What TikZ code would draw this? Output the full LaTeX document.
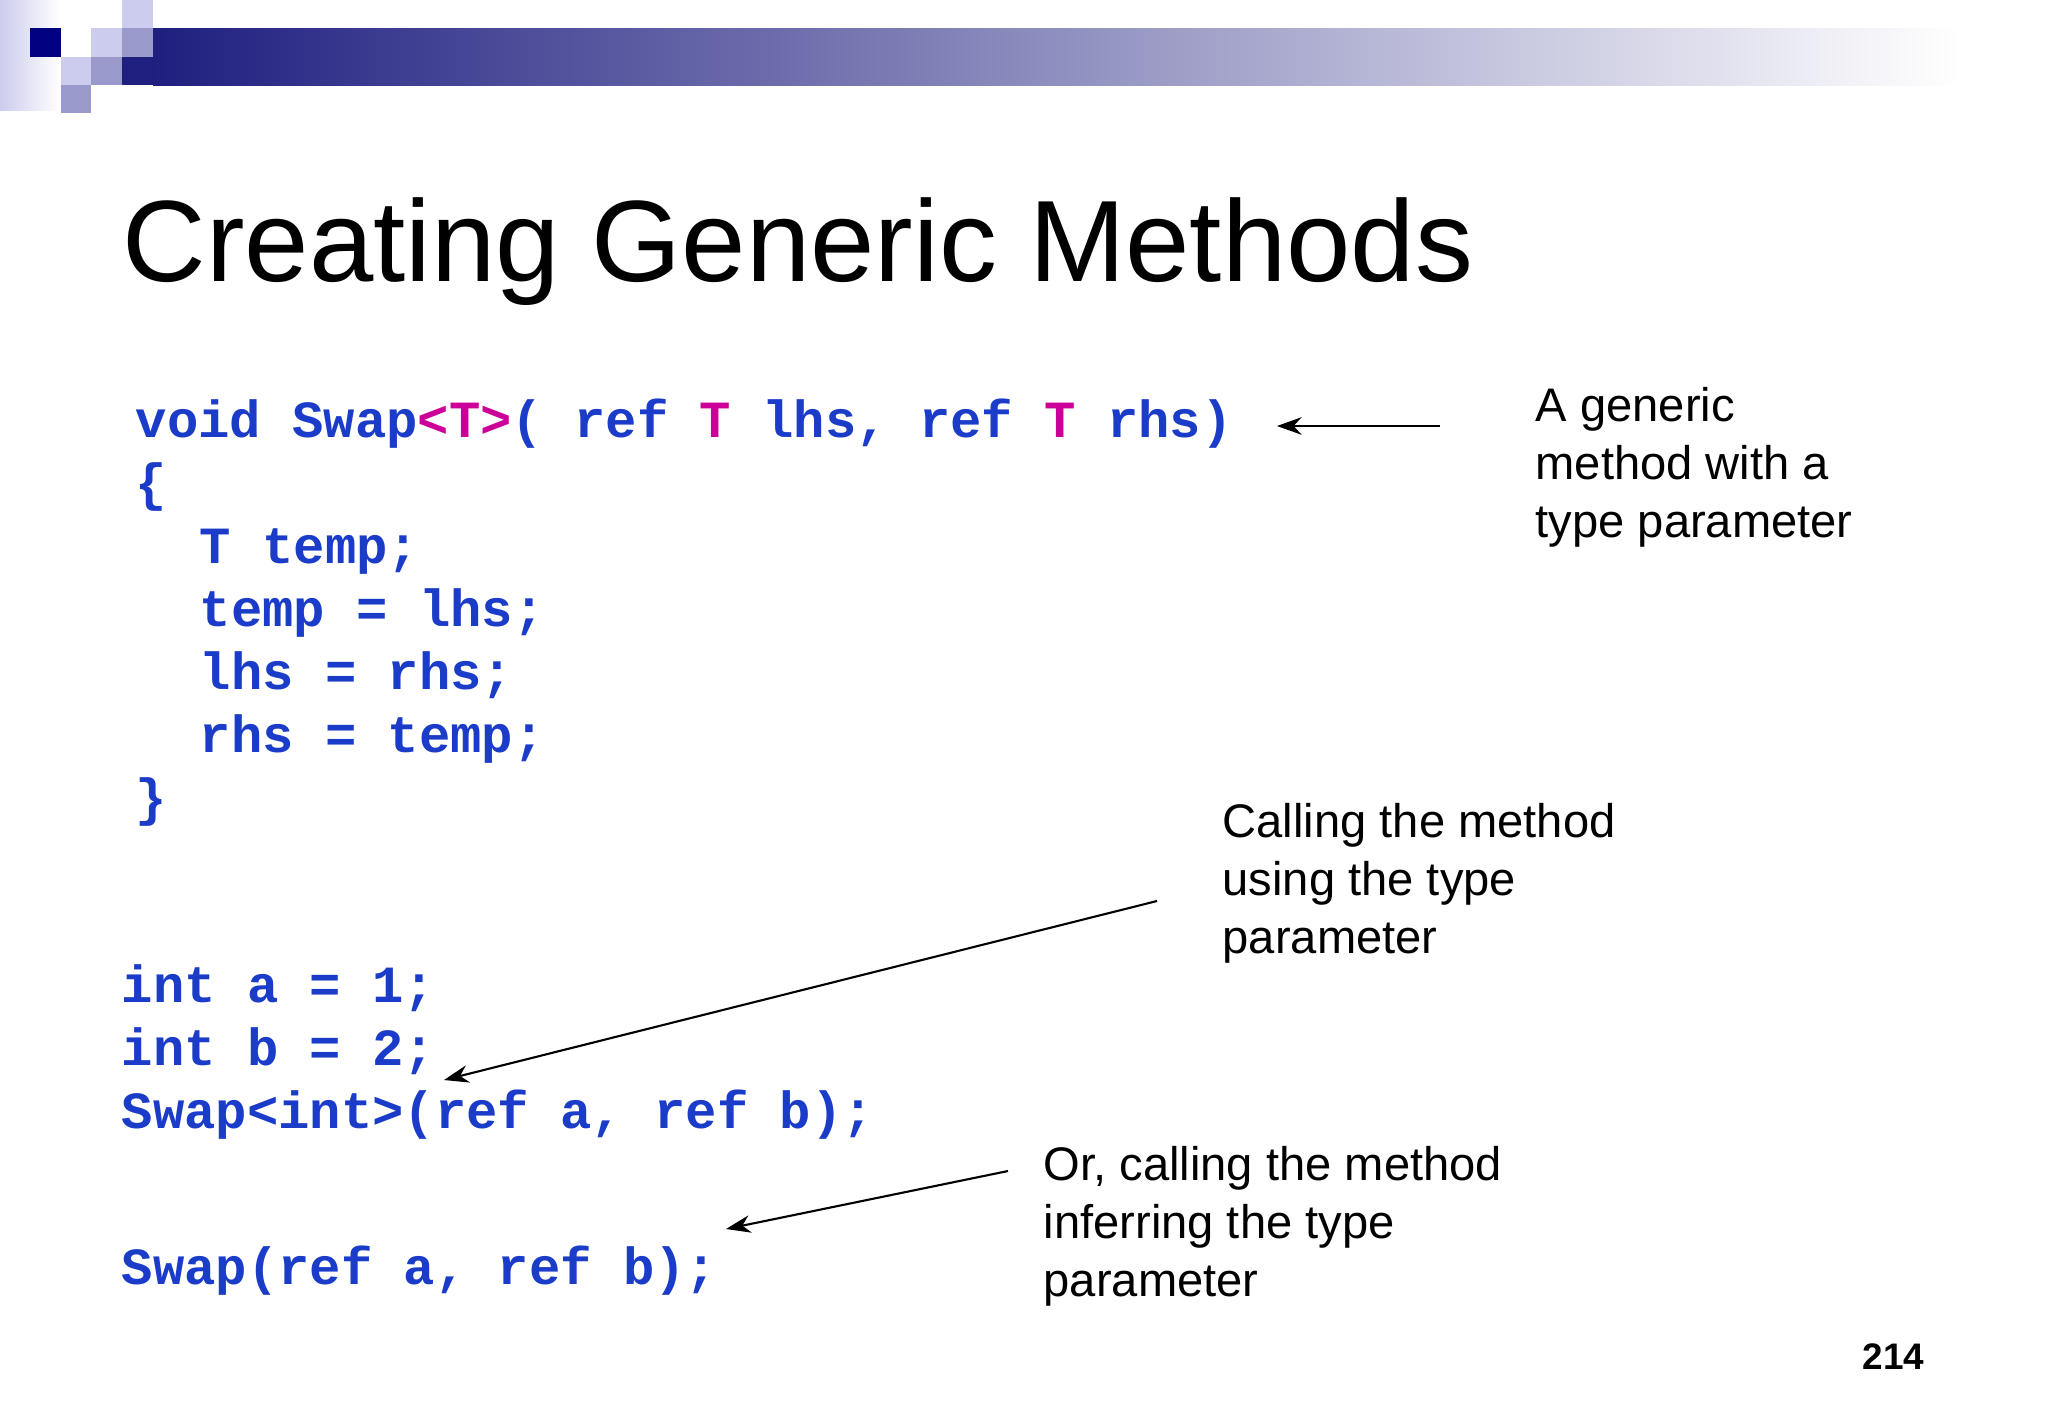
\documentclass[tikz,border=0pt]{standalone}
\usepackage{fontspec}
\setmainfont{Liberation Sans}
\newfontfamily\codefont{Liberation Mono}
\usetikzlibrary{arrows.meta}
\definecolor{cblue}{HTML}{1A3CC8}
\definecolor{cmag}{HTML}{CC0099}
\definecolor{navy}{HTML}{000080}
\definecolor{lsq}{HTML}{CCCCEE}
\definecolor{msq}{HTML}{9999CC}
\definecolor{dsq}{HTML}{1F1F80}
\tikzset{
 code/.style={anchor=base west,inner sep=0pt,font=\codefont\bfseries\fontsize{14.85}{16}\selectfont,text=cblue},
 note/.style={anchor=base west,inner sep=0pt,font=\fontsize{13.4}{16.4}\selectfont,align=left},
 pointer/.style={-{Stealth[length=7pt,width=5pt]},line width=0.6pt}
}
\begin{document}
\begin{tikzpicture}[x=0.01cm,y=-0.01cm]
\useasboundingbox (0,0) rectangle (2048,1418);
\fill[white] (0,0) rectangle (2048,1418);
% decoration
\shade[left color=lsq,right color=white] (0,0) rectangle (60,110);
\shade[left color=dsq,right color=white] (153,28) rectangle (1960,85);
\fill[navy] (30,28) rectangle (61,57);
\fill[lsq] (61,57) rectangle (91,85);
\fill[msq] (61,85) rectangle (91,113);
\fill[lsq] (91,28) rectangle (122,57);
\fill[msq] (122,28) rectangle (153,57);
\fill[lsq] (122,0) rectangle (153,28);
\fill[msq] (91,57) rectangle (122,85);
\fill[dsq] (122,57) rectangle (153,85);
% title
\node[anchor=base west,inner sep=0pt,font=\fontsize{32.9}{40}\selectfont] (title) at (122,281) {Creating Generic Methods};
% code
\node[code] (l1) at (135,437) {void Swap\textcolor{cmag}{<T>}( ref \textcolor{cmag}{T} lhs, ref \textcolor{cmag}{T} rhs)};
\node[code] (l2) at (135,500) {\{};
\node[code] (l3) at (199,563) {T temp;};
\node[code] (l4) at (199,626) {temp = lhs;};
\node[code] (l5) at (199,689) {lhs = rhs;};
\node[code] (l6) at (199,752) {rhs = temp;};
\node[code] (l7) at (135,815) {\}};
\node[code] (m1) at (121,1002) {int a = 1;};
\node[code] (m2) at (121,1065) {int b = 2;};
\node[code] (m3) at (121,1128) {Swap<int>(ref a, ref b);};
\node[code] (m4) at (121,1284) {Swap(ref a, ref b);};
% notes (base = last line)
\node[note] (n1) at (1535,537) {A generic\\method with a\\type parameter};
\node[note] (n2) at (1222,953) {Calling the method\\using the type\\parameter};
\node[note] (n3) at (1043,1296) {Or, calling the method\\inferring the type\\parameter};
\node[anchor=base east,inner sep=0pt,font=\bfseries\fontsize{10.5}{12}\selectfont] (pg) at (1925,1369) {214};
% arrows
\coordinate (a1s) at (1440,426); \coordinate (a1e) at (1277,426);
\coordinate (a2s) at (1157,901); \coordinate (a2e) at (444,1080);
\coordinate (a3s) at (1008,1171); \coordinate (a3e) at (726,1229);
\draw[pointer] (a1s) -- (a1e);
\draw[pointer] (a2s) -- (a2e);
\draw[pointer] (a3s) -- (a3e);
\end{tikzpicture}
\end{document}
